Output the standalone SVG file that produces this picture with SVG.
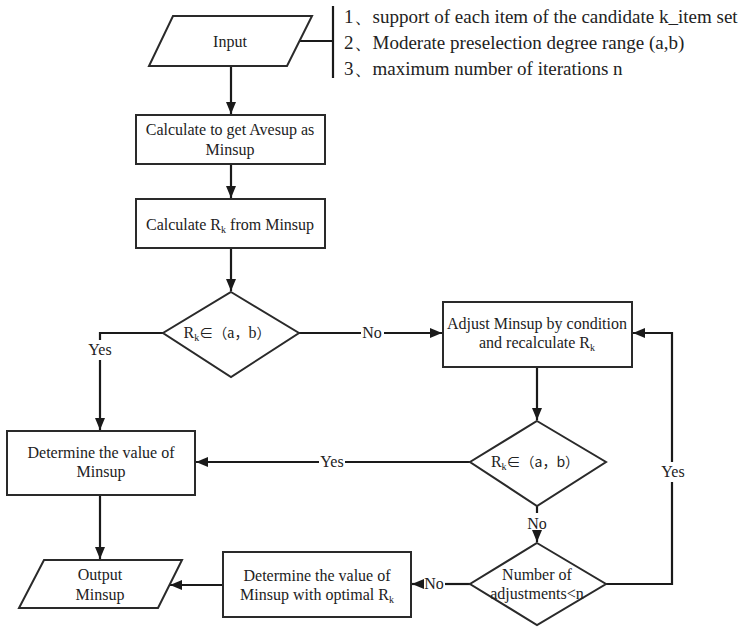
<svg xmlns="http://www.w3.org/2000/svg" width="745" height="627" viewBox="0 0 745 627">
  <defs>
    <marker id="arrow" viewBox="0 0 12 10" refX="12" refY="5" markerWidth="12" markerHeight="10" markerUnits="userSpaceOnUse" orient="auto">
      <path d="M0,0 L12,5 L0,10 z" fill="#1a1a1a"/>
    </marker>
    <style>
      .shape { fill: #ffffff; stroke: #2a2a2a; stroke-width: 2; }
      .line { fill: none; stroke: #1a1a1a; stroke-width: 2.2; }
      .t { font-family: "Liberation Serif", "Times New Roman", serif; font-size: 16px; fill: #222; text-anchor: middle; }
      .note { font-family: "Liberation Serif", "Times New Roman", serif; font-size: 19px; fill: #222; }
      .lbl { font-family: "Liberation Serif", "Times New Roman", serif; font-size: 16px; fill: #222; text-anchor: middle; }
      .cjk { font-family: "Noto Sans CJK SC", sans-serif; font-size: 14px; }
      .sub { font-size: 10px; }
    </style>
  </defs>
  <rect width="745" height="627" fill="#ffffff"/>

  <!-- connectors -->
  <g id="connectors">
    <!-- input annotation bracket -->
    <path class="line" d="M300,41 H333"/>
    <path class="line" d="M333,6 V78"/>
    <!-- main spine -->
    <path class="line" d="M231,66 V114" marker-end="url(#arrow)"/>
    <path class="line" d="M231,164 V198" marker-end="url(#arrow)"/>
    <path class="line" d="M231,248 V291" marker-end="url(#arrow)"/>
    <!-- first decision: No -->
    <path class="line" d="M299,333 H361"/>
    <path class="line" d="M384,333 H442" marker-end="url(#arrow)"/>
    <!-- first decision: Yes -->
    <path class="line" d="M163,333 H100 V340"/>
    <path class="line" d="M100,360 V430" marker-end="url(#arrow)"/>
    <!-- adjust to second decision -->
    <path class="line" d="M537,367 V420" marker-end="url(#arrow)"/>
    <!-- second decision: Yes -->
    <path class="line" d="M470,462 H345"/>
    <path class="line" d="M319,462 H196" marker-end="url(#arrow)"/>
    <!-- second decision: No -->
    <path class="line" d="M537,506 V513"/>
    <path class="line" d="M537,533 V542" marker-end="url(#arrow)"/>
    <!-- third decision: Yes loop back to adjust -->
    <path class="line" d="M606,584 H672 V482"/>
    <path class="line" d="M672,462 V333 H633" marker-end="url(#arrow)"/>
    <!-- third decision: No -->
    <path class="line" d="M470,584 H445"/>
    <path class="line" d="M423,584 H412" marker-end="url(#arrow)"/>
    <!-- results to output -->
    <path class="line" d="M100,495 V559" marker-end="url(#arrow)"/>
    <path class="line" d="M223,585 H170" marker-end="url(#arrow)"/>
    <!-- branch labels -->
    <text class="lbl" x="372" y="338">No</text>
    <text class="lbl" x="100" y="355">Yes</text>
    <text class="lbl" x="332" y="467">Yes</text>
    <text class="lbl" x="537" y="529">No</text>
    <text class="lbl" x="673" y="477">Yes</text>
    <text class="lbl" x="434" y="589">No</text>
  </g>

  <g id="input">
    <polygon class="shape" points="173,16 312,16 287,66 149,66"/>
    <text class="t" x="230" y="47">Input</text>
  </g>

  <g id="input-notes">
    <text class="note" x="344" y="23">1、support of each item of the candidate k_item set</text>
    <text class="note" x="344" y="49">2、Moderate preselection degree range (a,b)</text>
    <text class="note" x="344" y="75">3、maximum number of iterations n</text>
  </g>

  <g id="avesup">
    <rect class="shape" x="136" y="115" width="189" height="49"/>
    <text class="t" x="230" y="135">Calculate to get Avesup as</text>
    <text class="t" x="230" y="155">Minsup</text>
  </g>

  <g id="calc-rk">
    <rect class="shape" x="136" y="199" width="189" height="49"/>
    <text class="t" x="230" y="230">Calculate R<tspan class="sub" dy="3">k</tspan><tspan dy="-3"> from Minsup</tspan></text>
  </g>

  <g id="decision-1">
    <polygon class="shape" points="231,292 299,333 231,377 163,333"/>
    <text class="t" x="227" y="338">R<tspan class="sub" dy="3">k</tspan><tspan dy="-3" class="cjk">∈（</tspan>a<tspan class="cjk">，</tspan>b<tspan class="cjk">）</tspan></text>
  </g>

  <g id="adjust">
    <rect class="shape" x="443" y="302" width="189" height="65"/>
    <text class="t" x="537" y="329">Adjust Minsup by condition</text>
    <text class="t" x="537" y="348">and recalculate R<tspan class="sub" dy="3">k</tspan></text>
  </g>

  <g id="determine">
    <rect class="shape" x="7" y="431" width="188" height="64"/>
    <text class="t" x="101" y="458">Determine the value of</text>
    <text class="t" x="101" y="477">Minsup</text>
  </g>

  <g id="decision-2">
    <polygon class="shape" points="537,421 606,462 537,506 470,462"/>
    <text class="t" x="535" y="467">R<tspan class="sub" dy="3">k</tspan><tspan dy="-3" class="cjk">∈（a，b）</tspan></text>
  </g>

  <g id="decision-3">
    <polygon class="shape" points="537,543 606,584 537,625 470,584"/>
    <text class="t" x="537" y="580">Number of</text>
    <text class="t" x="537" y="599">adjustments&lt;n</text>
  </g>

  <g id="optimal">
    <rect class="shape" x="223" y="552" width="188" height="65"/>
    <text class="t" x="317" y="581">Determine the value of</text>
    <text class="t" x="317" y="600">Minsup with optimal R<tspan class="sub" dy="3">k</tspan></text>
  </g>

  <g id="output">
    <polygon class="shape" points="44,560 182,560 158,608 19,608"/>
    <text class="t" x="100" y="580">Output</text>
    <text class="t" x="100" y="600">Minsup</text>
  </g>
</svg>
